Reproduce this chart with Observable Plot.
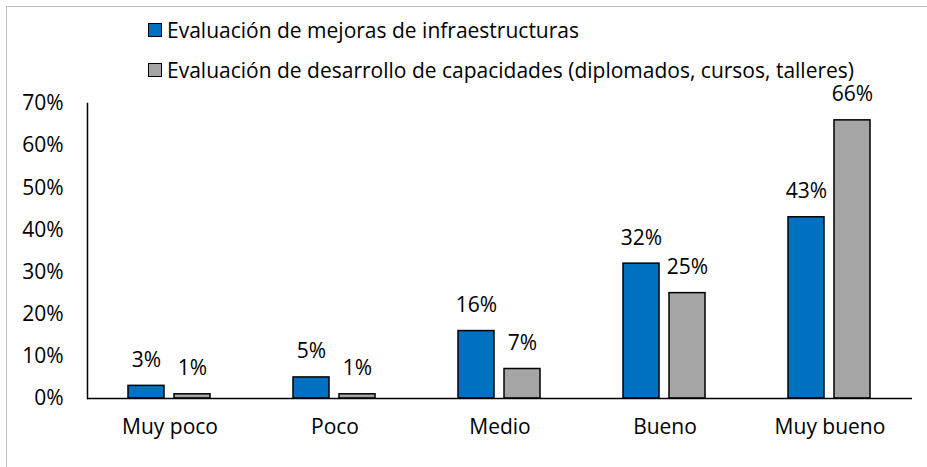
<!DOCTYPE html>
<html>
<head>
<meta charset="utf-8">
<script src="https://cdn.jsdelivr.net/npm/d3@7"></script>
<script src="https://cdn.jsdelivr.net/npm/@observablehq/plot@0.6"></script>
<style>
  html, body { margin: 0; padding: 0; background: #fff; overflow: hidden; }
  #wrap { position: relative; width: 927px; height: 467px; font-family: "Open Sans", sans-serif; color: #000; }
  #border { position: absolute; left: 6px; top: 6px; width: 1000px; height: 1000px; border-left: 1px solid #bfbfbf; border-top: 1px solid #bfbfbf; pointer-events: none; }
  .leg { position: absolute; left: 148px; display: flex; align-items: center; font-size: 21px; white-space: nowrap; }
  .sw { width: 12px; height: 12px; border: 1.5px solid #000; margin-right: 5px; }
</style>
</head>
<body>
<div id="wrap"><div id="border"></div></div>
<script>
const categories = ["Muy poco", "Poco", "Medio", "Bueno", "Muy bueno"];
const series = [
  "Evaluación de mejoras de infraestructuras",
  "Evaluación de desarrollo de capacidades (diplomados, cursos, talleres)"
];
const infraestructuras = [3, 5, 16, 32, 43];
const capacidades = [1, 1, 7, 25, 66];
const yTicks = [0, 10, 20, 30, 40, 50, 60, 70];
const colors = ["#0070C0", "#A5A5A5"];

const data = [];
categories.forEach((c, i) => {
  data.push({cat: c, series: series[0], value: infraestructuras[i]});
  data.push({cat: c, series: series[1], value: capacidades[i]});
});

const fs = 21;
const chart = Plot.plot({
  width: 927,
  height: 467,
  marginLeft: 86,
  marginRight: 15,
  marginTop: 103,
  marginBottom: 69,
  style: {fontFamily: "Open Sans, sans-serif", fontSize: fs + "px", color: "#000", background: "transparent"},
  fx: {domain: categories, paddingInner: 0, paddingOuter: 0, label: null},
  x: {domain: series, paddingInner: 0.2128, paddingOuter: 0.862, axis: null},
  y: {domain: [0, 70], axis: null},
  color: {domain: series, range: colors},
  marks: [
    Plot.axisY({ticks: yTicks, tickSize: 0, tickPadding: 24, tickFormat: d => d + "%", label: null, fontSize: fs}),
    Plot.axisFx({anchor: "bottom", tickSize: 0, tickPadding: 21, label: null, fontSize: fs}),
    Plot.barY(data, {fx: "cat", x: "series", y: "value", fill: "series", stroke: "#000", strokeWidth: 1.5}),
    Plot.ruleY([0], {stroke: "#000", strokeWidth: 1.5}),
    Plot.frame({anchor: "left", facetAnchor: "left", stroke: "#000", strokeWidth: 1.5}),
    Plot.text(data, {fx: "cat", x: "series", y: "value", text: d => d.value + "%", lineAnchor: "bottom", dy: -19, fontSize: fs})
  ]
});
const wrap = document.getElementById("wrap");
wrap.appendChild(chart);
chart.style.position = "absolute";
chart.style.left = "0px";
chart.style.top = "0px";

series.forEach((s, i) => {
  const d = document.createElement("div");
  d.className = "leg";
  d.style.top = (i === 0 ? 16 : 56) + "px";
  d.style.height = "28px";
  const sw = document.createElement("div");
  sw.className = "sw";
  sw.style.background = colors[i];
  const t = document.createElement("span");
  t.textContent = s;
  d.appendChild(sw);
  d.appendChild(t);
  wrap.appendChild(d);
});
</script>
</body>
</html>
